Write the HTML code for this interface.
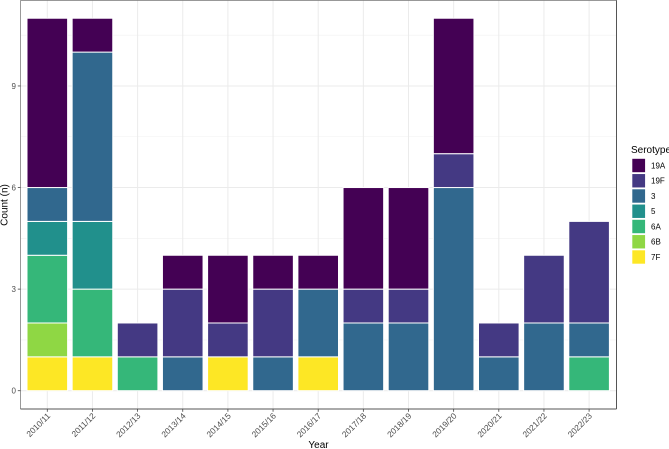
<!DOCTYPE html>
<html>
<head>
<meta charset="utf-8">
<style>
html,body{margin:0;padding:0;background:#fff;}
svg{display:block;}
text{font-family:"Liberation Sans",sans-serif;}
</style>
</head>
<body>
<svg id="chart" xmlns="http://www.w3.org/2000/svg" width="669" height="449" viewBox="0 0 669 449"></svg>
<script>
const categories = ['2010/11','2011/12','2012/13','2013/14','2014/15','2015/16','2016/17','2017/18','2018/19','2019/20','2020/21','2021/22','2022/23'];
const serotypes = ['19A','19F','3','5','6A','6B','7F'];
const colors = ['#440154','#443983','#31688e','#21908c','#35b779','#8fd744','#fde725'];
const s19A = [5,1,0,1,2,1,1,3,3,4,0,0,0];
const s19F = [0,0,1,2,1,2,0,1,1,1,1,2,3];
const s3   = [1,5,0,1,0,1,2,2,2,6,1,2,1];
const s5   = [1,2,0,0,0,0,0,0,0,0,0,0,0];
const s6A  = [2,2,1,0,0,0,0,0,0,0,0,0,1];
const s6B  = [1,0,0,0,0,0,0,0,0,0,0,0,0];
const s7F  = [1,1,0,0,1,0,1,0,0,0,0,0,0];
const yTicks = [0,3,6,9];
const yMinorTicks = [1.5,4.5,7.5,10.5];
const seriesValues = [s19A,s19F,s3,s5,s6A,s6B,s7F];

const NS = 'http://www.w3.org/2000/svg';
const svg = document.getElementById('chart');
const panel = {l:20.5, r:616.5, t:0.2, b:409};
const xScale = i => 47.3 + i * 45.15;
const yScale = v => 390.7 - v * 33.86;
const barW = 40.6;

function mk(tag, attrs, parent){
  const e = document.createElementNS(NS, tag);
  for (const k in attrs) e.setAttribute(k, attrs[k]);
  (parent || svg).appendChild(e);
  return e;
}

// grid
const grid = mk('g', {});


yMinorTicks.forEach(v => {
  const l = mk('line', {x1:panel.l, x2:panel.r, y1:yScale(v), y2:yScale(v), stroke:'#f0f0f0', 'stroke-width':0.6}, grid);
  
  
});
yTicks.forEach(v => {
  const l = mk('line', {x1:panel.l, x2:panel.r, y1:yScale(v), y2:yScale(v), stroke:'#ebebeb', 'stroke-width':1}, grid);
  
  
});
categories.forEach((c, i) => {
  const l = mk('line', {x1:xScale(i), x2:xScale(i), y1:panel.t, y2:panel.b, stroke:'#ebebeb', 'stroke-width':1}, grid);
  
  
});

// bars: stacked with the last serotype at the bottom
categories.forEach((c, i) => {
  let base = 0;
  for (let s = serotypes.length - 1; s >= 0; s--) {
    const v = seriesValues[s][i];
    if (!v) continue;
    const y1 = yScale(base + v), y0 = yScale(base);
    const r = mk('rect', {x:xScale(i) - barW / 2, y:y1, width:barW, height:y0 - y1, fill:colors[s], stroke:'#ffffff', 'stroke-width':1});
    
    
    base += v;
  }
});

// panel border: top and left read lighter than right and bottom in the reference
const borderTop = mk('line', {x1:panel.l, x2:panel.r, y1:panel.t, y2:panel.t, stroke:'#777777', 'stroke-width':1});


const borderLeft = mk('line', {x1:panel.l, x2:panel.l, y1:panel.t, y2:panel.b, stroke:'#999999', 'stroke-width':1});


const borderRight = mk('line', {x1:panel.r, x2:panel.r, y1:panel.t, y2:panel.b, stroke:'#555555', 'stroke-width':1});


const borderBottom = mk('line', {x1:panel.l, x2:panel.r, y1:panel.b, y2:panel.b, stroke:'#555555', 'stroke-width':1});



// y axis
yTicks.forEach(v => {
  const t = mk('line', {x1:17.8, x2:panel.l, y1:yScale(v), y2:yScale(v), stroke:'#444', 'stroke-width':0.8});
  
  
  const lb = mk('text', {x:16, y:yScale(v) + 2.8, 'text-anchor':'end', 'font-size':8, fill:'#4d4d4d'});
  lb.textContent = v;
  
  
});

// x axis
categories.forEach((c, i) => {
  const t = mk('line', {x1:xScale(i), x2:xScale(i), y1:panel.b, y2:panel.b + 2.8, stroke:'#444', 'stroke-width':0.8});
  
  
  const x = xScale(i) + 3.5, y = 416.5;
  const lb = mk('text', {x:x, y:y, 'text-anchor':'end', 'font-size':8.4, fill:'#4d4d4d', transform:'rotate(-45 ' + x + ' ' + y + ')'});
  lb.textContent = c;
  
  
});

// axis titles
const xt = mk('text', {x:318.5, y:448, 'text-anchor':'middle', 'font-size':10, fill:'#000'});
xt.textContent = 'Year';


const yt = mk('text', {x:7.5, y:205, 'text-anchor':'middle', 'font-size':10, fill:'#000', transform:'rotate(-90 7.5 205)'});
yt.textContent = 'Count (n)';



// legend
const lg = mk('g', {});


const lt = mk('text', {x:631, y:153, 'font-size':10, fill:'#000'}, lg);
lt.textContent = 'Serotype';


serotypes.forEach((s, i) => {
  const y = 158.5 + i * 15.25;
  const k = mk('rect', {x:632, y:y, width:13.4, height:14, fill:colors[i], stroke:'#ffffff', 'stroke-width':0.6}, lg);
  
  
  const t = mk('text', {x:651, y:y + 9.8, 'font-size':8, fill:'#000'}, lg);
  t.textContent = s;
  
  
});
</script>
</body>
</html>
